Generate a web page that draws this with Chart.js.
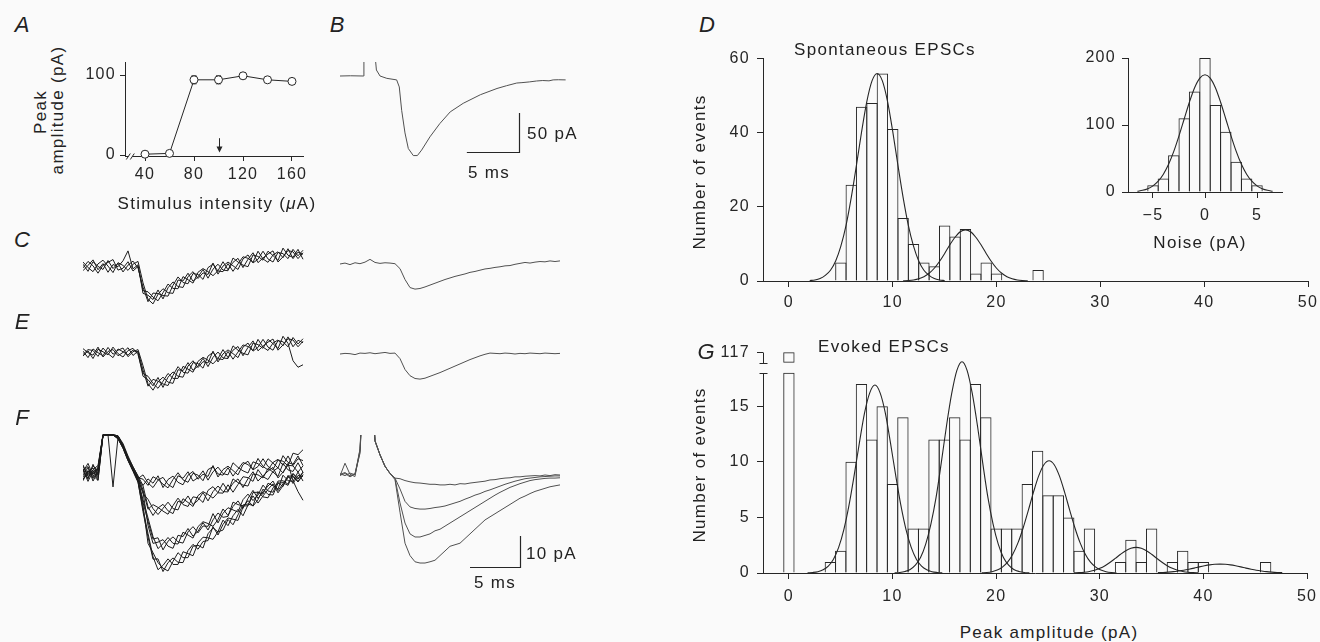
<!DOCTYPE html>
<html>
<head>
<meta charset="utf-8">
<title>Spontaneous and evoked EPSCs</title>
<script src="https://cdn.jsdelivr.net/npm/chart.js@4.4.1/dist/chart.umd.min.js"></script>
<style>
  body { margin: 0; width: 1320px; height: 642px; overflow: hidden; position: relative;
         background: #fafafa; color: #222; font-family: 'Liberation Sans', Arial, sans-serif; }
  canvas { position: absolute; }
  .txt { position: absolute; white-space: nowrap; line-height: 1; font-size: 17px; letter-spacing: 1.3px;
         transform: translate(-50%, -50%); }
  .txt.left { transform: translate(0, -50%); }
  .txt.rot { transform: translate(-50%, -50%) rotate(-90deg); }
  .txt.panel { font-size: 22px; font-style: italic; letter-spacing: 0; }
</style>
</head>
<body>
<script>
// ---------- A: peak amplitude vs stimulus intensity
const stimIntensity = [40, 60, 80, 100, 120, 140, 160];
const peakAmplitude = [1, 2, 94, 94, 99, 94, 92];
const peakSem = [1, 1, 5, 5, 2, 2, 2];
const stimChosen = 100;        // arrow
const arrowFrom = 21, arrowTo = 3;
const axisBreakAt = 28;

// ---------- B: mean EPSC (ms, pA)
const bTime = [0, 1, 2.24, 2.3, 2.8, 3.35, 3.5, 3.85, 4.5, 5.45, 5.7, 5.93, 6.25, 6.57, 7.05, 7.44, 7.85, 8.65,
  9.6, 10.6, 11.85, 13.5, 15.1, 16.0, 17.0, 17.5, 18.2, 18.9, 19.5, 20.1, 20.5, 21.0, 21.7];
const bCurrent = [0, 0.3, 0, 30, null, 30, 7.7, 0, -3, -5, -14, -44, -73, -93, -102, -102, -95, -78,
  -61, -46, -35, -24, -16, -12.5, -9, -8.5, -7.6, -6.4, -5.8, -6.2, -5, -4.8, -5];

// ---------- C, E, F: sweeps sampled every 0.5 ms (pA)
const sweepTime = [0, 0.5, 1, 1.5, 2, 2.5, 3, 3.5, 4, 4.5, 5, 5.5, 6, 6.5, 7, 7.5, 8, 8.5, 9, 9.5, 10, 10.5,
  11, 11.5, 12, 12.5, 13, 13.5, 14, 14.5, 15, 15.5, 16, 16.5, 17, 17.5, 18, 18.5, 19, 19.5, 20, 20.5, 21, 21.5, 22];

const cSweeps = [
  [0.9, -1.4, 1.7, 0.2, -0.8, 2.1, -0.5, 1.2, -1.6, 0.6, 1.9, -0.3, -6.5, -11.2, -8.4, -8.6, -9.2, -9.4, -5.9, -3.2, -5.0, -5.4,
   -2.1, -2.4, -4.0, -0.2, 0.9, -1.3, -1.5, 1.1, -1.4, 1.0, 3.3, 2.8, 1.5, 5.1, 2.6, 1.5, 3.9, 4.9, 3.0, 5.9, 2.7, 4.8, 4.1],
  [-1.2, 0.5, 2.3, -0.9, 1.1, -1.7, 0.8, 0.1, 2.0, 5.2, -0.6, 0.7, -8.5, -9.1, -10.5, -7.4, -10.3, -6.7, -4.8, -6.3, -6.6, -3.1,
   -1.5, -3.7, -1.9, -2.4, 1.3, -2.3, 0.3, 1.6, 0.4, -0.8, 2.6, 3.9, 1.3, 2.5, 5.1, 2.6, 1.6, 4.7, 4.3, 2.7, 5.7, 3.6, 5.4],
  [1.6, -0.2, -1.5, 1.0, 2.2, 0.3, -1.8, 1.4, 0.5, -1.1, 0.9, 1.8, -5.1, -10.4, -11.9, -8.8, -7.0, -8.3, -8.5, -4.2, -4.5, -2.0,
   -4.6, -3.2, -0.8, -3.6, -0.7, 0.9, -1.0, -1.2, 2.9, 1.6, 0.6, 0.1, 3.9, 3.4, 2.2, 5.1, 3.7, 2.1, 6.1, 3.8, 3.1, 5.7, 2.5],
  [-0.3, 1.8, 0.4, -2.0, 0.6, 1.5, 2.4, -1.0, -0.4, 1.7, -1.3, 0.2, -7.6, -8.0, -9.7, -10.9, -8.3, -5.5, -6.9, -7.0, -3.1, -4.1,
   -5.2, -1.7, -0.5, -1.5, -2.8, -1.2, 1.7, -0.9, 1.5, 2.8, -0.2, 2.5, 4.6, 1.4, 2.9, 4.2, 5.2, 1.6, 3.3, 5.3, 4.9, 2.7, 4.6]
];
const cMean = [0, 0.3, -0.2, 0.4, 0.1, 0.6, 1.5, 0.5, 0.2, 0.4, 0.3, 0.1, -1.5, -5.0, -7.6, -8.1, -7.9, -7.4, -6.8, -6.2, -5.6, -5.0,
  -4.5, -4.0, -3.6, -3.2, -2.7, -2.4, -2.0, -1.6, -1.4, -1.1, -0.9, -0.6, -0.5, -0.1, 0.2, 0.5, 0.3, 0.6, 0.8, 0.7, 1.0, 0.8, 1.0];

const eSweeps = [
  [0.6, -1.5, 1.3, 0.1, -0.9, 1.8, -0.4, 0.9, 1.6, -1.2, 0.4, 1.1, -4.1, -9.9, -12.0, -9.3, -7.8, -9.4, -9.8, -5.4, -5.7, -3.1,
   -5.6, -4.2, -1.7, -4.4, -1.4, 0.3, -1.6, -1.8, 2.3, 0.9, -0.1, -0.6, 3.2, 2.7, 1.5, 4.4, 3.0, 1.4, 5.4, 3.1, -2.5, -4.6, -3.8],
  [-1.0, 0.7, -1.8, 1.2, 0.4, -0.6, 1.9, -0.2, -1.3, 0.8, 1.5, -0.5, -6.6, -7.5, -9.8, -11.4, -9.1, -6.6, -8.2, -8.2, -4.3, -5.2,
   -6.2, -2.7, -1.4, -2.3, -3.5, -1.8, 1.1, -1.5, 0.9, 2.1, -0.9, 1.8, 3.9, 0.7, 2.2, 3.5, 4.5, 0.9, 2.6, 4.6, 4.2, 2.0, 3.8],
  [1.4, 0.1, -0.7, 1.9, -1.3, 0.5, 1.1, -0.9, 0.2, 1.7, -0.8, 0.6, -5.5, -10.7, -8.5, -9.1, -10.0, -10.5, -7.2, -4.4, -6.2, -6.5,
   -3.1, -3.4, -4.9, -1.0, 0.2, -1.9, -2.1, 0.5, -2.0, 0.3, 2.6, 2.1, 0.8, 4.4, 1.9, 0.8, 3.2, 4.2, 2.3, 5.2, 2.0, 4.1, 3.3],
  [-0.5, 1.1, 0.8, -1.1, 1.6, -0.2, -1.5, 1.3, 0.4, -0.7, 1.0, 0.2, -7.5, -8.6, -10.6, -7.9, -11.1, -7.8, -6.1, -7.5, -7.8, -4.2,
   -2.5, -4.7, -2.8, -3.2, 0.6, -2.9, -0.3, 1.0, -0.2, -1.5, 1.9, 3.2, 0.6, 1.8, 4.4, 1.9, 0.9, 4.0, 3.6, 2.0, 5.0, 2.9, 4.6]
];
const eMean = [0, 0.2, 0.1, -0.2, 0.3, 0.2, 0.4, 0.1, 0.3, 0.5, 0.2, 0.3, -1.5, -5.0, -7.0, -7.9, -8.1, -7.8, -7.2, -6.6, -6.0, -5.3,
  -4.6, -3.9, -3.2, -2.5, -1.8, -1.2, -0.6, -0.1, 0.3, 0.2, 0.1, 0.3, 0.2, 0.0, 0.2, 0.1, 0.3, 0.2, 0.1, 0.3, 0.2, 0.1, 0.2];

// the stimulus artefact saturates the amplifier (flat top) in F
const fSweeps = [
  [1.5, -2.0, 2.8, -0.6, 12.3, 12.3, 12.3, 11.5, 8.5, 4.5, 1.5, -1.5, -2.0, -4.0, -1.2, -2.1, -3.6, -4.8, -2.1, 0.1, -2.2, -3.0,
   -0.1, -0.7, -2.5, 1.1, 2.0, -0.3, -0.7, 1.7, -1.0, 1.2, 3.4, 2.7, 1.2, 4.7, 2.1, 1.0, 3.4, 4.4, 2.5, 5.5, 2.4, 4.6, 4.0],
  [-2.5, 0.8, -1.2, 1.9, 12.3, 12.3, -4.5, 11.5, 9.0, 5.0, 2.0, -1.0, -4.0, -1.9, -3.3, -0.9, -4.7, -2.1, -1.0, -3.0, -3.8, -0.7,
   0.5, -2.0, -0.4, -1.1, 2.4, -1.3, 1.1, 2.2, 0.8, -0.6, 2.7, 3.8, 1.0, 2.1, 4.6, 2.1, 1.1, 4.2, 3.8, 2.3, 6.4, 5.9, 7.5],
  [0.4, 3.1, -0.8, -2.4, 12.3, 12.3, 12.3, 12.0, 8.8, 4.8, 1.2, -1.8, -0.6, -3.2, -4.7, -2.3, -1.4, -3.7, -4.7, -0.9, -1.7, 0.4,
   -2.6, -1.5, 0.7, -2.3, 0.4, 1.9, -0.2, -0.6, 3.3, 1.8, 0.7, 0, 3.6, 3.0, 1.7, 4.6, 3.2, 1.6, 5.6, 3.4, 2.8, 5.5, 2.4],
  [0.6, 2.1, -1.8, 0.9, 12.3, 12.3, 12.3, 11.0, 8.0, 4.0, 1.0, -2.0, -6.6, -8.5, -11.5, -13.4, -11.4, -9.4, -11.5, -11.9, -8.3, -9.5,
   -10.8, -7.3, -6.0, -6.9, -8.1, -6.3, -3.3, -5.8, -3.3, -1.9, -4.7, -1.8, 0.4, -2.6, -0.9, 0.6, 1.8, -1.6, 0.3, 2.5, 2.3, 0.3, 2.3],
  [-1.4, 0.3, 1.6, -0.9, 12.3, 12.3, 12.3, 12.0, 9.5, 5.5, 2.0, -1.0, -5.5, -11.7, -10.2, -11.1, -12.3, -13.3, -10.5, -8.1, -10.2, -10.8,
   -7.7, -8.0, -9.5, -5.6, -4.4, -6.4, -6.5, -3.8, -6.2, -3.7, -1.2, -1.5, -2.7, 1.1, -1.2, -2.1, 0.5, 1.7, 0.0, 3.1, -2.5, -6.0, -8.8],
  [2.6, -1.1, 0.2, 1.4, 12.3, 12.3, 12.3, 11.2, 8.2, 4.2, 0.8, -2.2, -4.1, -10.9, -13.7, -11.3, -10.1, -12.2, -13.1, -9.1, -9.7, -7.4,
   -10.2, -8.8, -6.3, -9.0, -6.0, -4.2, -6.0, -6.1, -1.9, -3.1, -3.9, -4.2, -0.3, -0.6, -1.6, 1.5, 0.3, -1.1, 3.1, 1.0, 0.5, 3.3, 0.2],
  [2.2, -0.5, 0.9, -2.3, 12.3, 12.3, 12.3, 11.5, 8.5, 4.5, 1.0, -2.5, -9.5, -15.6, -21.3, -20.9, -24.8, -22.0, -20.6, -22.2, -22.6, -19.0,
   -17.3, -19.3, -17.1, -17.2, -13.1, -16.1, -13.0, -11.2, -11.9, -12.6, -8.6, -6.8, -8.9, -7.1, -3.9, -5.8, -6.2, -2.6, -2.5, -3.6, -0.1, -1.8, 0.3],
  [-0.9, 1.8, -2.6, 0.4, 12.3, 12.3, 12.3, 12.0, 9.0, 5.0, 1.5, -2.0, -6.1, -16.9, -22.7, -22.3, -21.5, -23.6, -24.3, -20.1, -20.5, -17.9,
   -20.4, -18.8, -16.0, -18.4, -15.1, -12.9, -14.3, -14.0, -9.4, -10.2, -10.6, -10.6, -6.3, -6.2, -6.8, -3.3, -4.1, -5.2, -0.7, -2.5, -2.7, 0.3, -2.6],
  [-1.9, -0.3, 2.2, 0.8, 12.3, 12.3, 12.3, 11.8, 8.7, 4.7, 1.3, -2.3, -8.6, -14.5, -20.5, -24.4, -22.8, -20.8, -22.7, -22.9, -19.1, -20.0,
   -21.0, -17.3, -15.7, -16.3, -17.2, -15.0, -11.6, -13.7, -10.8, -9.0, -11.4, -8.2, -5.6, -8.2, -6.1, -4.2, -2.6, -5.7, -3.5, -1.0, -0.9, -2.7, -0.5],
  [0.2, -1.6, 1.1, 2.4, 12.3, 12.3, 12.3, 11.0, 8.0, 4.0, 0.5, -3.0, -11.6, -19.5, -27.0, -31.2, -29.8, -27.7, -29.5, -29.5, -25.4, -26.0,
   -26.7, -22.6, -20.7, -20.9, -21.4, -18.9, -15.2, -17.0, -13.8, -11.7, -13.8, -10.3, -7.4, -9.7, -7.4, -5.3, -3.5, -6.4, -4.1, -1.4, -1.2, -2.9, -0.6],
  [-2.1, 0.5, -0.3, 1.2, 12.3, 12.3, 12.3, 11.5, 9.0, 4.5, 1.0, -2.5, -10.5, -22.7, -25.7, -28.9, -30.7, -31.6, -28.5, -25.7, -27.3, -27.3,
   -23.6, -23.3, -24.2, -19.6, -17.7, -19.0, -18.4, -15.0, -16.7, -13.5, -10.3, -10.0, -10.5, -6.0, -7.7, -8.0, -4.8, -3.1, -4.4, -0.8, -3.4, -0.8, -1.1],
  [1.0, -2.7, 0.6, -1.5, 12.3, 12.3, 12.3, 11.3, 8.4, 4.4, 0.9, -2.8, -12.5, -20.6, -27.8, -27.7, -31.8, -28.9, -27.4, -28.8, -28.9, -25.0,
   -23.0, -24.6, -22.1, -21.8, -17.3, -20.0, -16.6, -14.5, -14.9, -15.3, -11.0, -8.9, -10.7, -8.6, -5.2, -6.9, -7.1, -3.3, -3.1, -4.0, -0.4, -2.0, 0.2]
];
const fMeans = [
  [0.2, 0.8, -0.3, 0.4, 8, 40, 40, 11, 6.5, 2.8, 0.5, -1.0, -1.2, -1.8, -2.2, -2.5, -2.6, -2.8, -3.0, -3.0, -3.2, -3.2,
   -3.0, -3.2, -2.8, -2.9, -2.6, -2.4, -2.2, -2.0, -1.6, -1.5, -1.2, -1.0, -0.9, -0.6, -0.6, -0.4, -0.3, -0.2, -0.3, 0, -0.2, 0.1, 0],
  [-0.3, 3.8, 0.2, -0.5, 8.5, 40, 40, 11, 6.5, 2.8, 0.5, -1.0, -4.5, -8.5, -10.3, -10.8, -11, -11, -10.8, -10.5, -10.3, -10,
   -9.5, -9, -8.5, -7.8, -7.2, -6.5, -6, -5.3, -4.8, -4.2, -3.6, -3.0, -2.5, -2, -1.6, -1.2, -1, -0.8, -0.6, -0.5, -0.4, -0.3, -0.3],
  [0.4, -0.2, 0.6, 0.1, 7.5, 40, 40, 11, 6.5, 2.8, 0.5, -1.2, -9, -15.5, -19, -20, -20, -19.5, -19, -18, -17.5, -16.5,
   -15.5, -14.5, -13.5, -12.5, -11.5, -10.5, -9.5, -8.5, -7.5, -6.5, -5.6, -4.8, -4, -3.4, -2.8, -2.3, -1.8, -1.5, -1.3, -1.1, -1, -1, -0.9],
  [-0.1, 0.5, -0.6, 0.3, 7, 40, 40, 11, 6.5, 2.8, 0.5, -1.5, -12, -22, -26, -28, -28.4, -28.4, -28, -27.5, -26, -24.5,
   -23, -22.5, -22, -20.5, -19, -17.5, -16, -14.5, -13.5, -12.5, -11.5, -10.5, -9.5, -8.5, -7.5, -6.8, -6, -5.3, -4.8, -4.3, -3.8, -3.5, -3.2]
];

// scale bars: start time, start current, length in ms and pA
const bScaleBar = { t: 12.2, i: -97.4, dt: 5, di: 50 };
const fScaleBar = { t: 13, i: -29.7, dt: 5, di: 10 };

// ---------- D: spontaneous EPSC amplitudes (1 pA bins) and noise inset
const spontBins = [5, 6, 7, 8, 9, 10, 11, 12, 13, 14, 15, 16, 17, 18, 19, 20, 24];
const spontCounts = [5, 26, 47, 48, 56, 41, 17, 10, 5, 4, 15, 12, 14, 2, 5, 2, 3];
const spontFit1 = [[2, 0.12], [2.5, 0.28], [3, 0.67], [3.5, 1.5], [4, 2.9], [4.5, 5.4], [5, 9.4], [5.5, 15], [6, 22.5], [6.5, 31.2],
  [7, 40.3], [7.5, 48.4], [8, 54], [8.5, 56], [9, 54], [9.5, 48.4], [10, 40.3], [10.5, 31.2], [11, 22.5], [11.5, 15], [12, 9.4],
  [12.5, 5.4], [13, 2.9], [13.5, 1.5], [14, 0.67], [14.5, 0.28], [15, 0.12]];
const spontFit2 = [[11, 0.05], [11.5, 0.13], [12, 0.29], [12.5, 0.61], [13, 1.17], [13.5, 2.08], [14, 3.44], [14.5, 5.26], [15, 7.44],
  [15.5, 9.76], [16, 11.8], [16.5, 13.3], [17, 13.8], [17.5, 13.3], [18, 11.8], [18.5, 9.76], [19, 7.44], [19.5, 5.26], [20, 3.44],
  [20.5, 2.08], [21, 1.17], [21.5, 0.61], [22, 0.29], [22.5, 0.13], [23, 0.05]];
const noiseBins = [-5, -4, -3, -2, -1, 0, 1, 2, 3, 4, 5];
const noiseCounts = [10, 20, 55, 110, 150, 200, 130, 90, 45, 20, 10];
const noiseFit = [[-6.5, 1.2], [-6, 2.5], [-5.5, 5], [-5, 9.2], [-4.5, 16.1], [-4, 26.6], [-3.5, 41.3], [-3, 60.6], [-2.5, 83.8],
  [-2, 109], [-1.5, 134], [-1, 155.6], [-0.5, 170], [0, 175], [0.5, 170], [1, 155.6], [1.5, 134], [2, 109], [2.5, 83.8], [3, 60.6],
  [3.5, 41.3], [4, 26.6], [4.5, 16.1], [5, 9.2], [5.5, 5], [6, 2.5], [6.5, 1.2]];

// ---------- G: evoked EPSC amplitudes (zero bin drawn on a broken axis)
const evokedBins = [0, 4, 5, 6, 7, 8, 9, 10, 11, 12, 13, 14, 15, 16, 17, 18, 19, 20, 21, 22, 23, 24, 25, 26, 27, 28, 29,
  32, 33, 34, 35, 37, 38, 39, 40, 46];
const evokedCounts = [117, 1, 2, 10, 17, 12, 15, 8, 14, 4, 4, 12, 12, 14, 12, 17, 14, 4, 4, 4, 8, 11, 7, 7, 5, 2, 4,
  1, 3, 1, 4, 1, 2, 1, 1, 1];
const evokedBreak = 18;              // lower part of the axis ends here
const evokedCap = [18.9, 19.85];     // short upper part that carries the 117 label
const evokedFits = [
  [[1.8, 0.02], [2.3, 0.05], [2.8, 0.12], [3.3, 0.29], [3.8, 0.62], [4.3, 1.24], [4.8, 2.3], [5.3, 3.9], [5.8, 6.1], [6.3, 8.8],
   [6.8, 11.7], [7.3, 14.4], [7.8, 16.2], [8.3, 16.9], [8.8, 16.2], [9.3, 14.4], [9.8, 11.7], [10.3, 8.8], [10.8, 6.1], [11.3, 3.9],
   [11.8, 2.3], [12.3, 1.24], [12.8, 0.62], [13.3, 0.29], [13.8, 0.12], [14.3, 0.05], [14.8, 0.02]],
  [[10.2, 0.02], [10.7, 0.05], [11.2, 0.14], [11.7, 0.32], [12.2, 0.7], [12.7, 1.39], [13.2, 2.6], [13.7, 4.4], [14.2, 6.8], [14.7, 9.9],
   [15.2, 13.2], [15.7, 16.1], [16.2, 18.2], [16.7, 19], [17.2, 18.2], [17.7, 16.1], [18.2, 13.2], [18.7, 9.9], [19.2, 6.8], [19.7, 4.4],
   [20.2, 2.6], [20.7, 1.39], [21.2, 0.7], [21.7, 0.32], [22.2, 0.14], [22.7, 0.05], [23.2, 0.02]],
  [[18.6, 0.02], [19.1, 0.05], [19.6, 0.12], [20.1, 0.26], [20.6, 0.53], [21.1, 0.97], [21.6, 1.69], [22.1, 2.71], [22.6, 4.05],
   [23.1, 5.63], [23.6, 7.27], [24.1, 8.73], [24.6, 9.74], [25.1, 10.1], [25.6, 9.74], [26.1, 8.73], [26.6, 7.27], [27.1, 5.63],
   [27.6, 4.05], [28.1, 2.71], [28.6, 1.69], [29.1, 0.97], [29.6, 0.53], [30.1, 0.26], [30.6, 0.12], [31.1, 0.05], [31.6, 0.02]],
  [[27.5, 0.02], [28, 0.03], [28.5, 0.07], [29, 0.14], [29.5, 0.25], [30, 0.42], [30.5, 0.66], [31, 0.97], [31.5, 1.32], [32, 1.68],
   [32.5, 2], [33, 2.22], [33.5, 2.3], [34, 2.22], [34.5, 2], [35, 1.68], [35.5, 1.32], [36, 0.97], [36.5, 0.66], [37, 0.42],
   [37.5, 0.25], [38, 0.14], [38.5, 0.07], [39, 0.03], [39.5, 0.02]],
  [[35.6, 0.03], [36.1, 0.05], [36.6, 0.08], [37.1, 0.12], [37.6, 0.18], [38.1, 0.25], [38.6, 0.34], [39.1, 0.44], [39.6, 0.55],
   [40.1, 0.65], [40.6, 0.73], [41.1, 0.78], [41.6, 0.8], [42.1, 0.78], [42.6, 0.73], [43.1, 0.65], [43.6, 0.55], [44.1, 0.44],
   [44.6, 0.34], [45.1, 0.25], [45.6, 0.18], [46.1, 0.12], [46.6, 0.08], [47.1, 0.05], [47.6, 0.03]]
];

// ================= drawing =================
const INK = '#262626';
const BG = '#fafafa';
const FONT = "'Liberation Sans', Arial, sans-serif";
const PAD = 16;

Chart.defaults.font.family = FONT;
Chart.register({ id: 'spacing', beforeDraw(chart) { chart.ctx.letterSpacing = '1.3px'; } });

// canvas whose chart area lands on the given page box
function mount(area, yW, xH) {
  const c = document.createElement('canvas');
  const w = area.r - area.l + yW + 2 * PAD;
  const h = area.b - area.t + xH + 2 * PAD;
  c.width = w; c.height = h;
  c.style.left = (area.l - yW - PAD) + 'px';
  c.style.top = (area.t - PAD) + 'px';
  c.style.width = w + 'px'; c.style.height = h + 'px';
  document.body.appendChild(c);
  return c;
}

function options(scales) {
  return {
    responsive: false, animation: false, events: [], devicePixelRatio: 1,
    layout: { padding: PAD },
    plugins: { legend: { display: false }, tooltip: { enabled: false } },
    scales
  };
}

function axis(min, max, ticks, size, o = {}) {
  return {
    type: 'linear', min, max, offset: false,
    afterFit: s => { if (s.isHorizontal()) s.height = size; else s.width = size; },
    afterBuildTicks: s => { s.ticks = ticks.map(v => ({ value: v })); },
    grid: { display: true, drawOnChartArea: false, drawTicks: true, tickLength: o.tl || 6, color: INK, offset: false },
    border: { display: o.border !== false, color: INK, width: 1 },
    ticks: { color: INK, font: { size: 16 }, padding: o.pad || 5, autoSkip: false, maxRotation: 0,
             callback: o.label || (v => v < 0 ? '\u2212' + (-v) : String(v)) }
  };
}
const hidden = (min, max) => ({ type: 'linear', min, max, display: false });

// x axis line runs a few pixels past the y axis, as in the histograms
const axisStub = {
  id: 'axisStub',
  afterDraw(chart) {
    const a = chart.chartArea, ctx = chart.ctx;
    const yb = Math.round(a.bottom) + 0.5;
    ctx.save(); ctx.strokeStyle = INK; ctx.lineWidth = 1;
    ctx.beginPath(); ctx.moveTo(a.left - 6, yb); ctx.lineTo(a.left, yb); ctx.stroke();
    ctx.restore();
  }
};

// ---- A
const ioExtras = {
  id: 'ioExtras',
  beforeDatasetsDraw(chart) {
    const { x, y } = chart.scales, ctx = chart.ctx;
    ctx.save(); ctx.strokeStyle = INK; ctx.lineWidth = 1;
    stimIntensity.forEach((v, i) => {
      const px = x.getPixelForValue(v);
      const top = y.getPixelForValue(peakAmplitude[i] + peakSem[i]);
      const bot = y.getPixelForValue(peakAmplitude[i] - peakSem[i]);
      ctx.beginPath();
      ctx.moveTo(px, top); ctx.lineTo(px, bot);
      ctx.moveTo(px - 2.5, top); ctx.lineTo(px + 2.5, top);
      ctx.moveTo(px - 2.5, bot); ctx.lineTo(px + 2.5, bot);
      ctx.stroke();
    });
    ctx.restore();
  },
  afterDraw(chart) {
    const { x, y } = chart.scales, ctx = chart.ctx, a = chart.chartArea;
    ctx.save();
    const bx = x.getPixelForValue(axisBreakAt), by = Math.round(a.bottom) + 0.5;
    ctx.fillStyle = BG; ctx.fillRect(bx - 2, by - 2, 4, 4);
    ctx.strokeStyle = INK; ctx.lineWidth = 1;
    ctx.beginPath();
    [-2, 2].forEach(o => { ctx.moveTo(bx + o - 2, by + 3); ctx.lineTo(bx + o + 2, by - 3); });
    ctx.stroke();
    const ax = Math.round(x.getPixelForValue(stimChosen)) + 0.5;
    const y0 = y.getPixelForValue(arrowFrom), y1 = y.getPixelForValue(arrowTo);
    ctx.beginPath(); ctx.moveTo(ax, y0); ctx.lineTo(ax, y1 - 4); ctx.stroke();
    ctx.beginPath(); ctx.moveTo(ax - 3, y1 - 6); ctx.lineTo(ax + 3, y1 - 6); ctx.lineTo(ax, y1); ctx.closePath();
    ctx.fillStyle = INK; ctx.fill();
    ctx.restore();
  }
};
new Chart(mount({ l: 125, t: 62, r: 303, b: 156 }, 40, 30), {
  type: 'line',
  data: { datasets: [{
    data: stimIntensity.map((v, i) => ({ x: v, y: peakAmplitude[i] })),
    borderColor: INK, borderWidth: 1, tension: 0, clip: false,
    pointRadius: 4, pointBackgroundColor: '#fff', pointBorderColor: INK, pointBorderWidth: 1
  }] },
  options: options({
    x: axis(23.67, 168.98, [40, 80, 120, 160], 30, { tl: 5, pad: 4 }),
    y: axis(-1.25, 116.25, [0, 100], 40, { tl: 5, pad: 4 })
  }),
  plugins: [ioExtras]
});

// ---- traces
function scaleBar(bar) {
  return {
    id: 'scaleBar',
    afterDatasetsDraw(chart) {
      const { x, y } = chart.scales, ctx = chart.ctx;
      const x0 = x.getPixelForValue(bar.t), x1 = Math.round(x.getPixelForValue(bar.t + bar.dt)) + 0.5;
      const y0 = Math.round(y.getPixelForValue(bar.i)) + 0.5, y1 = y.getPixelForValue(bar.i + bar.di);
      ctx.save(); ctx.strokeStyle = INK; ctx.lineWidth = 1.2;
      ctx.beginPath(); ctx.moveTo(x0, y0); ctx.lineTo(x1, y0); ctx.lineTo(x1, y1); ctx.stroke();
      ctx.restore();
    }
  };
}
function traces(area, xMax, yMin, yMax, sets, times, color, width, plugins) {
  new Chart(mount(area, 0, 0), {
    type: 'line',
    data: { datasets: sets.map(s => ({
      data: times.map((t, i) => ({ x: t, y: s[i] })),
      borderColor: color, borderWidth: width, pointRadius: 0, tension: 0, spanGaps: false
    })) },
    options: options({ x: hidden(0, xMax), y: hidden(yMin, yMax) }),
    plugins: plugins || []
  });
}
const SWEEP = '#1c1c1c', MEAN = '#505050';
traces({ l: 340, t: 62, r: 570, b: 170 }, 22.12, -120.5, 17.95, [bCurrent], bTime, MEAN, 1, [scaleBar(bScaleBar)]);
traces({ l: 83, t: 240, r: 305, b: 310 }, 22.2, -13.87, 8.71, cSweeps, sweepTime, SWEEP, 1);
traces({ l: 340, t: 240, r: 563, b: 300 }, 22.3, -11.61, 7.74, [cMean], sweepTime, MEAN, 1);
traces({ l: 83, t: 328, r: 305, b: 395 }, 22.2, -13.55, 8.06, eSweeps, sweepTime, SWEEP, 1);
traces({ l: 340, t: 330, r: 563, b: 390 }, 22.3, -11.61, 7.74, [eMean], sweepTime, MEAN, 1);
traces({ l: 83, t: 434, r: 305, b: 590 }, 22.2, -37.74, 12.58, fSweeps, sweepTime, SWEEP, 1);
traces({ l: 340, t: 435, r: 563, b: 590 }, 22.3, -37.1, 12.9, fMeans, sweepTime, MEAN, 1, [scaleBar(fScaleBar)]);

// ---- histograms
function bars(bins, counts, extra) {
  return Object.assign({
    type: 'bar', data: bins.map((b, i) => ({ x: b, y: counts[i] })),
    backgroundColor: 'rgba(0,0,0,0)', borderColor: INK, borderWidth: 1,
    barPercentage: 1.096, categoryPercentage: 1, grouped: false, order: 2
  }, extra || {});
}
function fit(points) {
  return { type: 'line', data: points.map(([x, y]) => ({ x, y })), borderColor: INK, borderWidth: 1.1,
           pointRadius: 0, cubicInterpolationMode: 'monotone', order: 1 };
}

new Chart(mount({ l: 763, t: 58, r: 1308, b: 281 }, 45, 30), {
  type: 'bar',
  data: { datasets: [bars(spontBins, spontCounts), fit(spontFit1), fit(spontFit2)] },
  options: options({
    x: axis(-2.5, 50, [0, 10, 20, 30, 40, 50], 30, { pad: 6 }),
    y: axis(0, 60, [0, 20, 40, 60], 45, { pad: 7 })
  }),
  plugins: [axisStub]
});

new Chart(mount({ l: 1128, t: 58, r: 1282, b: 192 }, 45, 30), {
  type: 'bar',
  data: { datasets: [bars(noiseBins, noiseCounts), fit(noiseFit)] },
  options: options({
    x: axis(-7.4, 7.4, [-5, 0, 5], 30, { pad: 8 }),
    y: axis(0, 200, [0, 100, 200], 45, { pad: 6 })
  }),
  plugins: [axisStub]
});

const brokenAxis = {
  id: 'brokenAxis',
  afterDraw(chart) {
    const y = chart.scales.y, ctx = chart.ctx;
    const x0 = Math.round(chart.chartArea.left - 0.5) + 0.5;
    const p = v => Math.round(y.getPixelForValue(v)) + 0.5;
    ctx.save(); ctx.strokeStyle = INK; ctx.lineWidth = 1;
    ctx.beginPath();
    ctx.moveTo(x0, p(0)); ctx.lineTo(x0, p(evokedBreak));
    ctx.moveTo(x0 - 4, p(evokedBreak)); ctx.lineTo(x0 + 4, p(evokedBreak));
    ctx.moveTo(x0, p(evokedCap[0])); ctx.lineTo(x0, p(evokedCap[1]));
    ctx.moveTo(x0 - 4, p(evokedCap[0])); ctx.lineTo(x0 + 4, p(evokedCap[0]));
    ctx.stroke(); ctx.restore();
  }
};
const evokedLow = evokedCounts.map(c => Math.min(c, evokedBreak));
const evokedTall = evokedBins.filter((b, i) => evokedCounts[i] > evokedBreak);
new Chart(mount({ l: 763, t: 350, r: 1308, b: 573 }, 45, 30), {
  type: 'bar',
  data: { datasets: [
    bars(evokedBins, evokedLow),
    bars(evokedTall, evokedTall.map(() => evokedCap), { borderSkipped: false }),
    ...evokedFits.map(fit)
  ] },
  options: options({
    x: axis(-2.5, 50, [0, 10, 20, 30, 40, 50], 30, { pad: 8 }),
    y: axis(0, 20, [0, 5, 10, 15, evokedCap[1]], 45, {
      pad: 7, border: false,
      label: v => v === evokedCap[1] ? String(Math.max(...evokedCounts)) : String(v)
    })
  }),
  plugins: [brokenAxis, axisStub]
});

// ---- text
function text(html, x, y, cls) {
  const d = document.createElement('div');
  d.className = 'txt ' + (cls || '');
  d.innerHTML = html;
  d.style.left = x + 'px'; d.style.top = y + 'px';
  document.body.appendChild(d);
}
[['A', 22, 25], ['B', 337, 25], ['C', 22, 240], ['E', 22, 322], ['F', 22, 418], ['D', 707, 25], ['G', 706, 352]]
  .forEach(([s, x, y]) => text(s, x, y, 'panel'));
text('Peak', 40, 112, 'rot');
text('amplitude (pA)', 57, 110, 'rot');
text('Stimulus intensity (<i>\u03bc</i>A)', 217, 203);
text('50 pA', 527, 133, 'left');
text('5 ms', 489, 172);
text('10 pA', 526, 553, 'left');
text('5 ms', 495, 582);
text('Spontaneous EPSCs', 885, 49);
text('Noise (pA)', 1200, 242);
text('Number of events', 699, 172, 'rot');
text('Evoked EPSCs', 884, 346);
text('Number of events', 699, 465, 'rot');
text('Peak amplitude (pA)', 1049, 632);
</script>
</body>
</html>
